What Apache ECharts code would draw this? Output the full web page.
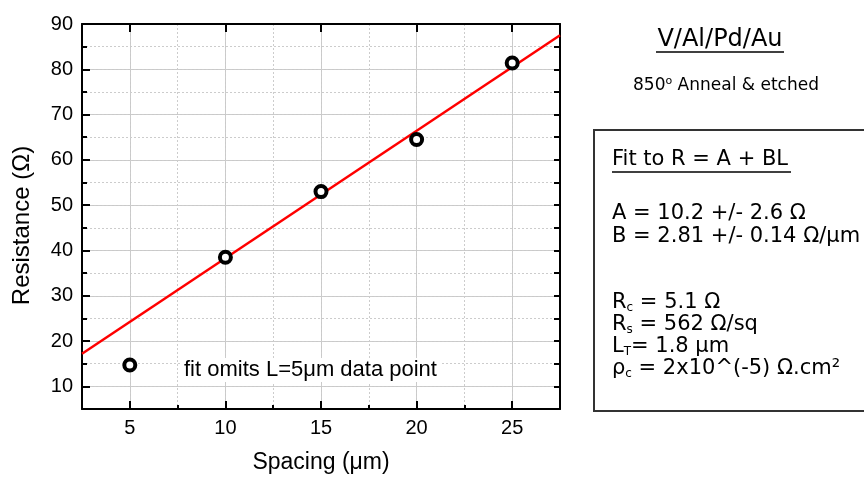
<!DOCTYPE html>
<html>
<head>
<meta charset="utf-8">
<script src="https://cdn.jsdelivr.net/npm/echarts@6/dist/echarts.min.js"></script>
<style>
  html, body { margin: 0; padding: 0; background: #fff; }
  #chart { width: 864px; height: 479px; }
</style>
</head>
<body>
<div id="chart"></div>
<script>
// measured points (spacing in um, resistance in ohm)
const spacing = [5, 10, 15, 20, 25]
const resistance = [14.7, 38.5, 53, 64.5, 81.4]
// fitted line R = A + BL, end points read at the plot edges
const fitX = [2.5, 27.5]
const fitY = [17.2, 87.5]
const xRange = [2.5, 27.5]
const yRange = [5, 90]

const sans = 'Liberation Sans, Arial, sans-serif'
const panel = 'DejaVu Sans, Verdana, sans-serif'

const myChart = echarts.init(document.getElementById('chart'))

const majorGrid = { show: true, lineStyle: { color: '#c9c9c9', width: 1 } }
const minorGrid = { show: true, lineStyle: { color: '#cccccc', width: 1, type: [2, 2] } }
const frame = { show: true, onZero: false, lineStyle: { color: '#000', width: 2 } }

const sub = { fontSize: 12, fontFamily: panel, color: '#000', lineHeight: 10, verticalAlign: 'bottom' }
const main = { fontSize: 21, fontFamily: panel, color: '#000', lineHeight: 22 }

myChart.setOption({
  animation: false,
  grid: { left: 82, top: 24, right: 304, bottom: 69, containLabel: false },
  xAxis: [
    {
      type: 'value', position: 'bottom', min: xRange[0], max: xRange[1], splitNumber: 5,
      axisLine: frame,
      axisTick: { inside: true, length: 8, lineStyle: { color: '#000', width: 2 } },
      axisLabel: { showMinLabel: false, showMaxLabel: false, color: '#000', fontSize: 20, fontFamily: sans, margin: 9 },
      splitLine: majorGrid,
      name: 'Spacing (μm)', nameLocation: 'middle', nameGap: 42,
      nameTextStyle: { color: '#000', fontSize: 23, fontFamily: sans }
    },
    {
      type: 'value', position: 'bottom', min: xRange[0], max: xRange[1], interval: 2.5,
      axisLine: { show: false },
      axisTick: { inside: true, length: 4, lineStyle: { color: '#000', width: 2 } },
      axisLabel: { show: false },
      splitLine: minorGrid
    },
    {
      type: 'value', position: 'top', min: xRange[0], max: xRange[1], splitNumber: 5,
      axisLine: frame,
      axisTick: { inside: true, length: 8, lineStyle: { color: '#000', width: 2 } },
      axisLabel: { show: false },
      splitLine: { show: false }
    }
  ],
  yAxis: [
    {
      type: 'value', position: 'left', min: yRange[0], max: yRange[1], splitNumber: 8,
      axisLine: frame,
      axisTick: { inside: true, length: 8, lineStyle: { color: '#000', width: 2 } },
      axisLabel: { showMinLabel: false, color: '#000', fontSize: 20, fontFamily: sans, margin: 9 },
      splitLine: majorGrid,
      name: 'Resistance (Ω)', nameLocation: 'middle', nameGap: 48,
      nameTextStyle: { color: '#000', fontSize: 24, fontFamily: sans, padding: [0, 18, 0, 0] }
    },
    {
      type: 'value', position: 'left', min: yRange[0], max: yRange[1], interval: 5,
      axisLine: { show: false },
      axisTick: { inside: true, length: 5, lineStyle: { color: '#000', width: 2 } },
      axisLabel: { show: false },
      splitLine: minorGrid
    },
    {
      type: 'value', position: 'right', min: yRange[0], max: yRange[1], interval: 5,
      axisLine: frame,
      axisTick: { inside: true, length: 6, lineStyle: { color: '#000', width: 2 } },
      axisLabel: { show: false },
      splitLine: { show: false }
    }
  ],
  series: [
    {
      type: 'line',
      xAxisIndex: 0, yAxisIndex: 0,
      data: fitX.map((x, i) => [x, fitY[i]]),
      showSymbol: false,
      lineStyle: { color: '#ff0000', width: 2.5 },
      z: 3
    },
    {
      type: 'scatter',
      xAxisIndex: 0, yAxisIndex: 0,
      data: spacing.map((x, i) => [x, resistance[i]]),
      symbol: 'circle',
      symbolSize: 11,
      itemStyle: { color: '#fff', borderColor: '#000', borderWidth: 4, opacity: 1 },
      z: 4
    }
  ],
  graphic: [
    {
      type: 'text', x: 181, y: 370, z: 10,
      style: {
        text: 'fit omits L=5μm data point', fill: '#000', font: '22px ' + sans,
        verticalAlign: 'middle', textVerticalAlign: 'middle',
        backgroundColor: '#fff', padding: [1, 3, 1, 3]
      }
    },
    {
      type: 'text', x: 720, y: 40,
      style: { text: 'V/Al/Pd/Au', fill: '#000', font: '24px ' + panel, align: 'center', verticalAlign: 'middle', textAlign: 'center', textVerticalAlign: 'middle' }
    },
    { type: 'line', shape: { x1: 656, y1: 52, x2: 784, y2: 52 }, style: { stroke: '#000', lineWidth: 1.5 } },
    {
      type: 'text', x: 726, y: 86,
      style: {
        text: '{m|850}{o|o}{m| Anneal & etched}',
        align: 'center', verticalAlign: 'middle', textAlign: 'center', textVerticalAlign: 'middle',
        rich: {
          m: { fontSize: 17, fontFamily: panel, color: '#000', lineHeight: 20 },
          o: { fontSize: 11, fontFamily: panel, color: '#000', lineHeight: 10, verticalAlign: 'top' }
        }
      }
    },
    { type: 'rect', shape: { x: 594, y: 130, width: 290, height: 281 }, style: { fill: 'none', stroke: '#333', lineWidth: 2 } },
    {
      type: 'text', x: 612, y: 160,
      style: { text: 'Fit to R = A + BL', fill: '#000', font: '21px ' + panel, verticalAlign: 'middle', textVerticalAlign: 'middle' }
    },
    { type: 'line', shape: { x1: 612, y1: 172, x2: 791, y2: 172 }, style: { stroke: '#000', lineWidth: 1.5 } },
    {
      type: 'text', x: 612, y: 202,
      style: { text: 'A = 10.2 +/- 2.6 Ω\nB = 2.81 +/- 0.14 Ω/μm', fill: '#000', font: '21px ' + panel, lineHeight: 23 }
    },
    {
      type: 'text', x: 612, y: 292,
      style: {
        text: '{m|R}{s|c}{m| = 5.1 Ω}\n{m|R}{s|s}{m| = 562 Ω/sq}\n{m|L}{s|T}{m|= 1.8 μm}\n{m|ρ}{s|c}{m| = 2x10^(-5) Ω.cm²}',
        rich: { m: main, s: sub }
      }
    }
  ]
})
</script>
</body>
</html>
